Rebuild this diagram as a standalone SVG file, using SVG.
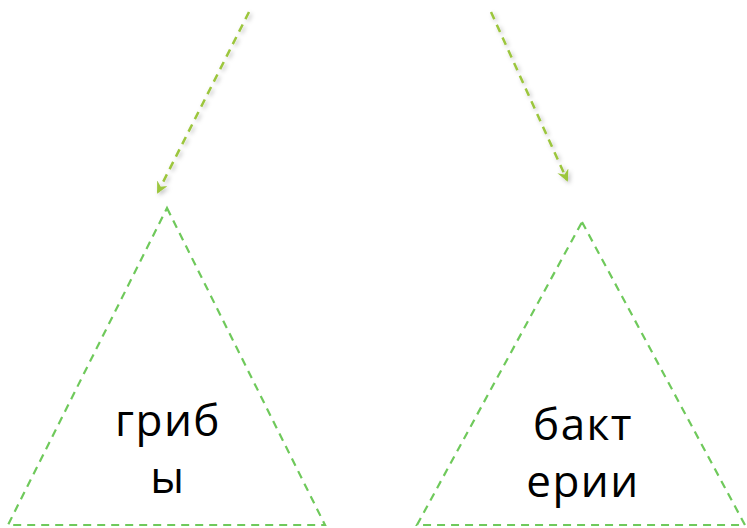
<svg xmlns="http://www.w3.org/2000/svg" width="747" height="528" viewBox="0 0 747 528">
<style>
.tri{fill:none;stroke:#6fc95b;stroke-width:2.2;stroke-dasharray:8 6}
.arr{fill:none;stroke:#9cc63e;stroke-width:2.5;stroke-dasharray:8 6;filter:url(#sh)}
.lbl{font-family:"Century Gothic","URW Gothic","Open Sans","Noto Sans","DejaVu Sans",sans-serif;font-weight:400;font-size:44px;letter-spacing:1.5px;fill:#000;text-anchor:middle}
</style>
<defs>
<filter id="sh" x="-50%" y="-50%" width="200%" height="200%">
<feDropShadow dx="2" dy="2" stdDeviation="2" flood-color="#000" flood-opacity="0.25"/>
</filter>
<marker id="ah" viewBox="0 0 12 12" refX="10" refY="6" markerWidth="12" markerHeight="12" markerUnits="userSpaceOnUse" orient="auto">
<path d="M0,0 L12,6 L0,12 L4,6 Z" fill="#9cc63e"/>
</marker>
</defs>
<g id="connectors">
<path class="arr" d="M249,12 L158,192" marker-end="url(#ah)"/>
<path class="arr" d="M491,12 L567,180" marker-end="url(#ah)"/>
</g>
<g id="node-griby">
<path class="tri" d="M167,208 L325,525 L8,525 Z"/>
<text class="lbl" x="168" y="436">гриб</text>
<text class="lbl" x="168" y="493">ы</text>
</g>
<g id="node-bakterii">
<path class="tri" d="M582,222 L745,525 L417,525 Z"/>
<text class="lbl" x="583" y="440">бакт</text>
<text class="lbl" x="583" y="497">ерии</text>
</g>
</svg>
